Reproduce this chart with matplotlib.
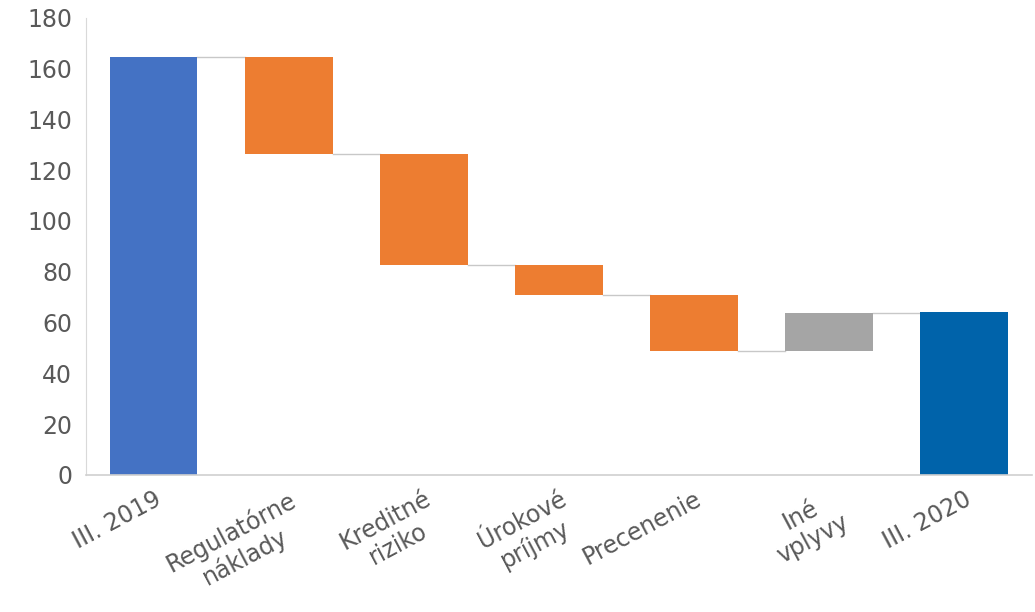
import matplotlib.pyplot as plt

# Dáta: vodopádový graf
kategorie = ["III. 2019", "Regulatórne\nnáklady", "Kreditné\nriziko", "Úrokové\npríjmy",
             "Precenenie", "Iné\nvplyvy", "III. 2020"]
zaciatok = 164.5
zmeny = [-38.0, -43.7, -11.9, -22.0, 14.9]
koniec = 64.0

farby = ["#4472C4", "#ED7D31", "#ED7D31", "#ED7D31", "#ED7D31", "#A5A5A5", "#0063AA"]

# spodky a výšky stĺpcov
spodky = [0]
vysky = [zaciatok]
uroven = zaciatok
for z in zmeny:
    nova = uroven + z
    spodky.append(min(uroven, nova))
    vysky.append(abs(z))
    uroven = nova
spodky.append(0)
vysky.append(koniec)

plt.rcParams['font.family'] = ['DejaVu Sans']
fig = plt.figure(figsize=(10.35, 6.12), dpi=100)
ax = fig.add_axes([0.083, 0.224, 0.914, 0.747])

x = list(range(len(kategorie)))
sirka = 0.65
ax.bar(x, vysky, bottom=spodky, width=sirka, color=farby, zorder=2)

# spojovacie čiary
urovne = [zaciatok]
u = zaciatok
for z in zmeny:
    u += z
    urovne.append(u)
for i, lv in enumerate(urovne):
    ax.plot([i + sirka / 2, i + 1 - sirka / 2], [lv, lv], color="#C8C8C8", lw=1, zorder=1)

ax.set_xlim(-0.5, 6.5)
ax.set_ylim(0, 180)
ax.set_yticks(range(0, 181, 20))
ax.tick_params(axis="y", labelsize=17, colors="#595959", length=0, pad=10)
ax.tick_params(axis="x", length=0)
ax.set_xticks(x)
ax.set_xticklabels(kategorie, rotation=28, ha="right", rotation_mode="anchor",
                   fontsize=17, color="#595959", multialignment="center", linespacing=1.15)
for lab in ax.get_xticklabels():
    lab.set_y(-0.015)

for s in ["top", "right"]:
    ax.spines[s].set_visible(False)
ax.spines["left"].set_color("#D9D9D9")
ax.spines["bottom"].set_color("#D0D0D0")
ax.spines["bottom"].set_linewidth(1.2)

fig.savefig("out.png", dpi=100)
